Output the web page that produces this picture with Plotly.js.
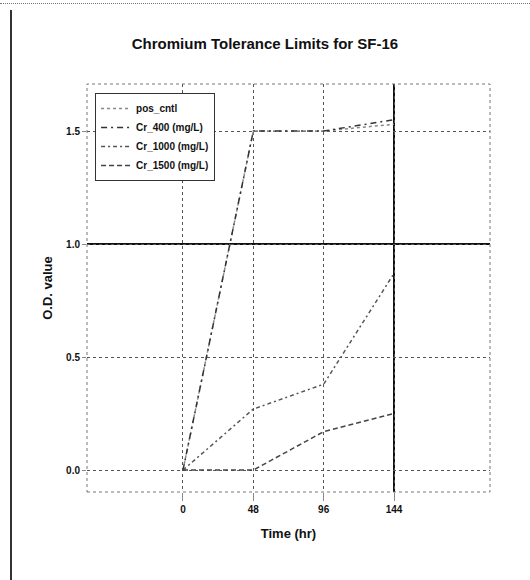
<!DOCTYPE html>
<html>
<head>
<meta charset="utf-8">
<script src="https://cdn.plot.ly/plotly-3.0.1.min.js"></script>
<style>
  html, body { margin: 0; padding: 0; background: #fff; }
  #wrap { position: relative; width: 530px; height: 580px; overflow: hidden; }
  #chart { position: absolute; left: 0; top: 0; width: 530px; height: 580px; }
  #topline { position: absolute; left: 0; top: 3px; width: 530px; border-top: 1px dotted #777; z-index: 5; }
  #leftline { position: absolute; left: 10px; top: 10px; height: 570px; border-left: 2px solid #333; z-index: 5; }
</style>
</head>
<body>
<div id="wrap">
  <div id="chart"></div>
  <div id="topline"></div>
  <div id="leftline"></div>
</div>
<script>
// ---- data ----
const times = [0, 48, 96, 144];
const posCntl = [0.0, 1.5, 1.5, 1.53];
const cr400 = [0.0, 1.5, 1.5, 1.55];
const cr1000 = [0.0, 0.27, 0.38, 0.87];
const cr1500 = [0.0, 0.0, 0.17, 0.25];
const seriesNames = ['pos_cntl', 'Cr_400 (mg/L)', 'Cr_1000 (mg/L)', 'Cr_1500 (mg/L)'];
const xTickVals = [0, 48, 96, 144];
const xTickText = ['0', '48', '96', '144'];
const yTickVals = [0, 0.5, 1.0, 1.5];
const yTickText = ['0.0', '0.5', '1.0', '1.5'];
const highlightX = xTickVals[3];
const highlightY = yTickVals[2];

const font = 'Liberation Sans, Arial, sans-serif';

const traces = [
  {x: times, y: posCntl, name: seriesNames[0], mode: 'lines',
   line: {color: '#888', width: 1.5, dash: 'dot'}},
  {x: times, y: cr400, name: seriesNames[1], mode: 'lines',
   line: {color: '#333', width: 1.5, dash: '6px,4px,2px,4px'}},
  {x: times, y: cr1000, name: seriesNames[2], mode: 'lines',
   line: {color: '#555', width: 1.5, dash: '4px,3px,2px,3px'}},
  {x: times, y: cr1500, name: seriesNames[3], mode: 'lines',
   line: {color: '#444', width: 1.5, dash: '5px,3px'}}
];

const layout = {
  width: 530, height: 580,
  margin: {l: 87, r: 40, t: 84, b: 88},
  paper_bgcolor: '#fff', plot_bgcolor: '#fff',
  font: {family: font, color: '#111', size: 9},
  title: {text: 'Chromium Tolerance Limits for SF-16', x: 0.5, xanchor: 'center',
          y: 1 - 44/580, yanchor: 'middle',
          font: {family: font, size: 15, color: '#111', weight: 'bold'}},
  xaxis: {
    range: [-65.5, 209.5], tickvals: xTickVals, ticktext: xTickText,
    showgrid: true, gridcolor: '#555', griddash: 'dot', gridwidth: 1,
    zeroline: false, showline: false, ticks: 'outside', ticklen: 8, tickcolor: '#888',
    tickfont: {size: 10, family: font, weight: 'bold'},
    title: {text: 'Time (hr)', font: {size: 13, family: font, weight: 'bold'}, standoff: 14}
  },
  yaxis: {
    range: [-0.097, 1.708], tickvals: yTickVals, ticktext: yTickText,
    showgrid: true, gridcolor: '#555', griddash: 'dot', gridwidth: 1,
    zeroline: false, showline: false, ticks: 'outside', ticklen: 4, tickcolor: '#888',
    tickfont: {size: 10, family: font, weight: 'bold'},
    title: {text: 'O.D. value', font: {size: 13, family: font, weight: 'bold'}, standoff: 10}
  },
  showlegend: true,
  legend: {
    x: 0.02, y: 0.978, xanchor: 'left', yanchor: 'top',
    bgcolor: '#fff', bordercolor: '#333', borderwidth: 1,
    font: {size: 10, family: font, color: '#111', weight: 'bold'},
    tracegroupgap: 0, itemwidth: 30
  },
  shapes: [
    {type: 'rect', xref: 'paper', yref: 'paper', x0: 0, x1: 1, y0: 0, y1: 1,
     line: {color: '#777', width: 1, dash: 'dot'}, layer: 'above'},
    {type: 'line', xref: 'x', yref: 'paper', x0: highlightX, x1: highlightX, y0: 0, y1: 1,
     line: {color: '#111', width: 2}, layer: 'below'},
    {type: 'line', xref: 'paper', yref: 'y', x0: 0, x1: 1, y0: highlightY, y1: highlightY,
     line: {color: '#111', width: 2}, layer: 'below'}
  ]
};

Plotly.newPlot('chart', traces, layout, {displayModeBar: false, staticPlot: true});
</script>
</body>
</html>
